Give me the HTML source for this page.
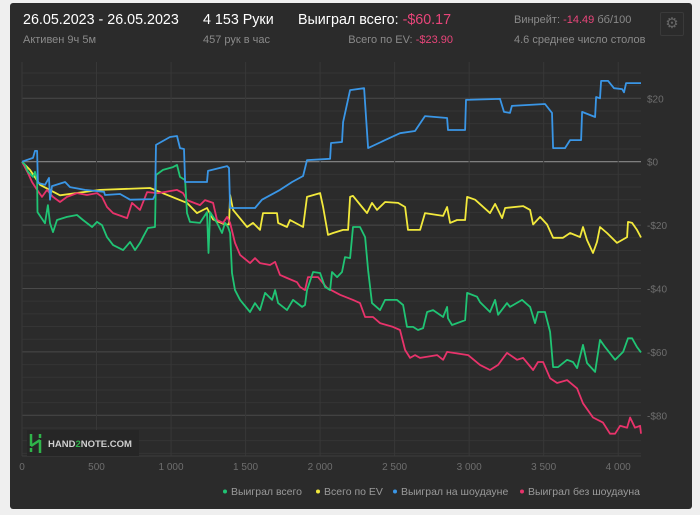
<!DOCTYPE html>
<html><head><meta charset="utf-8">
<style>
body{margin:0;background:#efefef;width:700px;height:515px;overflow:hidden;font-family:"Liberation Sans","DejaVu Sans",sans-serif}
#panel{position:absolute;left:10px;top:3px;width:682px;height:506px;background:#2b2b2b;border-radius:3px}
.t{position:absolute;white-space:nowrap}
.big{font-size:14.3px;color:#fff;top:12px}
.sm{font-size:11px;color:#8a8a8a;top:34px}
.neg{color:#e8457a}
</style></head><body>
<div id="panel"></div>
<div class="t big" style="left:23px">26.05.2023 - 26.05.2023</div>
<div class="t sm" style="left:23px">Активен 9ч 5м</div>
<div class="t big" style="left:203px">4 153 Руки</div>
<div class="t sm" style="left:203px">457 рук в час</div>
<div class="t big" style="left:298px">Выиграл всего: <span class="neg">-$60.17</span></div>
<div class="t sm" style="left:348px;width:105px;text-align:right">Всего по EV: <span class="neg">-$23.90</span></div>
<div class="t sm" style="left:514px;top:14px">Винрейт: <span class="neg">-14.49</span> бб/100</div>
<div class="t sm" style="left:514px">4.6 среднее число столов</div>
<div class="t" style="left:660px;top:12px;width:22px;height:22px;border:1px solid #3a3a3a;border-radius:2px;color:#666;font-size:15px;text-align:center;line-height:22px">⚙</div>
<svg id="chart" width="700" height="515" style="position:absolute;left:0;top:0"></svg>
<script>
const xTicks=[0,500,1000,1500,2000,2500,3000,3500,4000];
const xTickLabels=["0","500","1 000","1 500","2 000","2 500","3 000","3 500","4 000"];
const yTicks=[20,0,-20,-40,-60,-80];
const yTickLabels=["$20","$0","-$20","-$40","-$60","-$80"];
const seriesNames=["Всего по EV","Выиграл без шоудауна","Выиграл всего","Выиграл на шоудауне"];
const seriesColors=["#f2e93c","#e8336b","#20c474","#3a96e6"];
const evHands=[0,54,121,255,523,859,1107,1174,1241,1282,1362,1389,1396,1416,1510,1550,1597,1617,1711,1718,1778,1798,1886,1912,2000,2020,2053,2087,2154,2188,2201,2221,2281,2315,2348,2382,2436,2523,2570,2590,2671,2704,2825,2852,2872,2919,2973,2986,3040,3140,3174,3221,3241,3362,3409,3429,3476,3523,3563,3630,3677,3744,3764,3791,3831,3858,3878,3925,3992,4060,4066,4093,4126,4153];
const evValues=[0,-2.6,-7.3,-10.6,-8.9,-8.3,-13,-16.2,-14.6,-18.2,-19.8,-19.8,-10.5,-15.2,-20.6,-19.3,-21.5,-16.2,-16.2,-19.3,-20.6,-18.4,-20.6,-11.1,-9.9,-14.3,-23.1,-22.5,-21.5,-21.5,-11.1,-10.8,-14.3,-16.2,-13,-15.2,-12.7,-13,-14.3,-21.5,-21.5,-16.2,-17.1,-14.3,-19.3,-18.4,-18.4,-11.1,-12,-16.2,-13.3,-17.8,-14.6,-14,-15.2,-19.8,-17.4,-19.8,-24,-24,-22.5,-23.8,-20.6,-24.7,-28.8,-25.3,-20.6,-22.5,-25.6,-23.8,-19,-19.3,-21.5,-23.9];
const nsdHands=[0,40,67,101,134,168,208,255,302,369,436,503,537,570,611,705,738,792,839,913,1040,1080,1107,1194,1228,1282,1308,1349,1376,1396,1429,1463,1530,1563,1597,1664,1698,1731,1778,1845,1865,1899,1919,1986,2047,2134,2221,2268,2302,2355,2402,2489,2536,2570,2604,2637,2671,2785,2825,2852,2993,3073,3140,3194,3254,3321,3362,3429,3462,3496,3543,3590,3657,3724,3764,3831,3898,3945,3979,4013,4060,4080,4113,4147,4153];
const nsdValues=[0,-3.6,-6.4,-8.9,-11.1,-8.9,-11.1,-12.7,-11.1,-9.9,-10.5,-9.9,-11.1,-14.3,-16.2,-17.8,-13,-15.2,-9.6,-9.9,-8.9,-9.9,-12.1,-13.7,-12.1,-13,-18.4,-19.3,-17.4,-19.3,-25.6,-29.4,-32,-30.4,-32,-32.6,-31.6,-35.7,-36.7,-38,-39.5,-40.5,-36.4,-36.4,-39.8,-42,-43.6,-44.6,-49,-49,-50.9,-52.1,-53.1,-59.4,-61.9,-61,-61.9,-61,-62.5,-60,-61,-64.1,-65.7,-64.1,-60.3,-62.5,-61.9,-65.7,-63.2,-63.2,-68.3,-69.8,-68.9,-71.5,-76.2,-80.7,-82.3,-85.8,-85.8,-83.3,-83.9,-80.7,-83.9,-83.3,-85.8];
const totHands=[0,20,40,74,87,101,104,154,174,188,208,235,302,369,409,470,503,537,570,611,678,725,758,792,812,845,892,899,946,1013,1040,1060,1094,1107,1127,1194,1241,1251,1262,1308,1342,1362,1382,1396,1409,1429,1463,1530,1563,1597,1631,1678,1698,1718,1778,1818,1879,1899,1912,1953,2000,2033,2067,2080,2114,2147,2167,2201,2221,2268,2302,2322,2348,2402,2436,2516,2557,2583,2624,2657,2691,2718,2758,2825,2852,2858,2885,2973,2986,3053,3073,3140,3174,3194,3254,3274,3355,3409,3442,3462,3509,3543,3563,3597,3657,3697,3724,3764,3791,3845,3878,3912,3979,4033,4066,4093,4126,4153];
const totValues=[0,-1,-3.2,-4.8,-3.2,-5.8,-15.9,-19.4,-13.7,-19.4,-22.2,-18.4,-17.4,-16.8,-18.4,-20.6,-19,-20,-23.8,-26.3,-27.9,-25.3,-27.9,-25.6,-23.8,-20.9,-20.6,-4.2,-2.6,-1.7,-1,-4.8,-5.8,-16.2,-19,-19.3,-15.9,-28.8,-15.9,-19.3,-22.5,-19.3,-20.6,-22.5,-35.1,-40.5,-43.6,-47.4,-44.6,-46.8,-41.4,-43.6,-40.5,-44.6,-46.8,-43.6,-45.8,-45.2,-40.5,-34.8,-35.1,-39.5,-40.5,-34.8,-36.4,-34.8,-30.1,-30.4,-20.6,-20.6,-23.8,-34.2,-44.6,-46.8,-43.6,-43.6,-45.2,-52.1,-52.1,-53.1,-52.5,-47.4,-46.8,-49,-45.8,-49.4,-51.5,-50,-41.4,-42.6,-44.3,-47.4,-43.6,-48.3,-44.6,-45.8,-43.6,-45.8,-50.9,-47.4,-47.4,-53.7,-64.8,-64.8,-62.5,-63.2,-65.1,-57.8,-63.5,-66.3,-56.2,-58.5,-62.5,-60,-55.7,-55.7,-58.5,-60.17];
const sdHands=[0,74,87,101,107,154,181,188,201,289,322,423,550,557,658,725,879,893,899,993,1040,1060,1087,1094,1241,1248,1376,1389,1396,1563,1610,1731,1812,1886,1912,2067,2073,2147,2154,2201,2295,2322,2436,2536,2637,2704,2852,2858,2973,2979,3207,3234,3274,3287,3509,3556,3563,3643,3677,3751,3758,3845,3852,3878,3885,3932,3972,4026,4039,4053,4153];
const sdValues=[0,1.2,3.4,3.4,-6.7,-7.3,-5.1,-12,-7.7,-6.4,-8,-8.9,-9.5,-10.5,-10.2,-12,-11.8,-10.5,5.3,7.8,8.1,4.3,4,-6.4,-6.4,-2.9,-1.4,-2,-14.6,-14.6,-12,-8.9,-6.4,-4.5,0.5,0.9,5.9,6.2,12.5,22.6,23.2,4.3,6.8,9,9.7,14.4,13.8,10,10,19.5,19.8,15.7,15.4,17.6,18.2,15.4,4.3,4.3,6.8,6.8,15.7,14.1,20.4,20,25.5,25.5,23.2,22.9,21.9,24.8,24.8];

const NS="http://www.w3.org/2000/svg";
const svg=document.getElementById('chart');
const X0=22,X1=641,H1=4153,Y0=161.7,PPV=3.17,TOP=62,BOT=456;
function xs(h){return X0+(X1-X0)*h/H1;}
function ys(v){return Y0-v*PPV;}
function mk(tag,attrs){const e=document.createElementNS(NS,tag);for(const k in attrs)e.setAttribute(k,attrs[k]);svg.appendChild(e);return e;}
for(let v=28;v>=-92;v-=4){
  const y=ys(v);
  const major=(v%20===0);
  const l=mk('line',{x1:X0,x2:X1,y1:y,y2:y,stroke:v===0?'#8a8a8a':(major?'#4a4a4a':'#353535'),'stroke-width':v===0?1.2:1});
  
  
}
for(let i=0;i<xTicks.length;i++){
  const x=xs(xTicks[i]);
  const l=mk('line',{x1:x,x2:x,y1:TOP,y2:BOT,stroke:'#383838'});
  
  
  const t=mk('text',{x:x,y:470,fill:'#6e6e6e','font-size':'10','text-anchor':'middle'});
  t.textContent=xTickLabels[i];
  
  
}
const ax=mk('line',{x1:X0,x2:X1,y1:BOT,y2:BOT,stroke:'#3c3c3c'});


for(let i=0;i<yTicks.length;i++){
  const t=mk('text',{x:647,y:ys(yTicks[i])+4,fill:'#6e6e6e','font-size':'10'});
  t.textContent=yTickLabels[i];
  
  
}
const lg=mk('rect',{x:27,y:430,width:112,height:26,fill:'#262626'});


const lp=mk('path',{d:'M31 434 V446 M31 446 L40 440 M40 440 V453 M31 448 V452 M40 434 V438',stroke:'#2fb34a','stroke-width':'2.5',fill:'none'});


const lt=mk('text',{x:48,y:447,fill:'#cfcfcf','font-size':'9.5','font-weight':'bold'});
lt.innerHTML='HAND<tspan fill="#2fb34a">2</tspan>NOTE.COM';


const allH=[evHands,nsdHands,totHands,sdHands];
const allV=[evValues,nsdValues,totValues,sdValues];
const sNames=['ev-line','no-showdown-line','total-won-line','showdown-line'];
for(let s=0;s<4;s++){
  let d='';
  for(let i=0;i<allH[s].length;i++)d+=(i?'L':'M')+xs(allH[s][i]).toFixed(1)+' '+ys(allV[s][i]).toFixed(1);
  const p=mk('path',{d:d,stroke:seriesColors[s],'stroke-width':'1.8',fill:'none','stroke-linejoin':'round'});
  
  
}
const legOrder=[2,0,3,1];
const legX=[225,318,395,522];
for(let i=0;i<4;i++){
  const s=legOrder[i];
  const c=mk('circle',{cx:legX[i],cy:491.5,r:2,fill:seriesColors[s]});
  
  
  const t=mk('text',{x:legX[i]+6,y:495,fill:'#9a9a9a','font-size':'10.5'});
  t.textContent=seriesNames[s];
  
  
}
</script>
</body></html>
